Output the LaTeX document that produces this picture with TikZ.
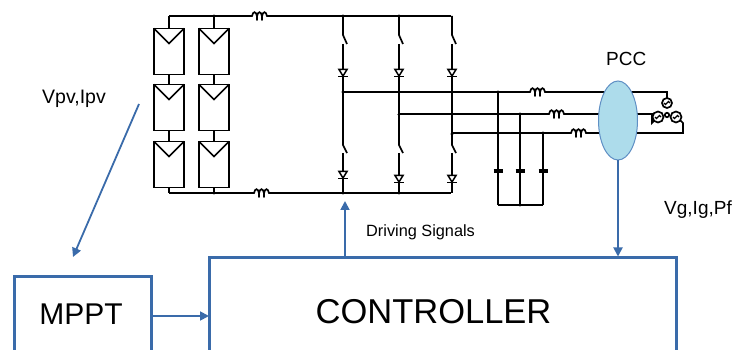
\documentclass[tikz,border=0pt]{standalone}
\usepackage{fontspec}
\setmainfont{Liberation Sans}
\usetikzlibrary{shapes.geometric,arrows.meta}
\definecolor{bl}{HTML}{3A6BAA}
\definecolor{pcc}{HTML}{ADDCEB}
\definecolor{pcce}{HTML}{5F8FC4}
\tikzset{
  wire/.style={draw=black,line width=1.7pt},
  thin wire/.style={draw=black,line width=1.7pt},
  sig/.style={draw=bl,line width=1.8pt,-{Triangle[length=9pt,width=9pt]}},
  blockbox/.style={draw=bl,line width=3pt,fill=white,anchor=north west,inner sep=0pt,outer sep=0pt},
  lbl/.style={inner sep=0pt,anchor=west,text=black},
  panel/.style={draw=black,line width=1.7pt,fill=white,minimum width=30pt,minimum height=46pt,inner sep=0pt,outer sep=0pt,anchor=north west},
  dot/.style={circle,fill=black,inner sep=0pt,minimum size=3.4pt},
  pics/coil/.style={code={
    \draw[thin wire,line cap=round] (0,0) -- (2,0) .. controls (3,-5) and (6,-5) .. (7,0) -- (7,4) (7,0) .. controls (8,-5) and (11,-5) .. (12,0) -- (12,4) (12,0) .. controls (13,-5) and (16,-5) .. (17,0) -- (19,0);
  }},
  pics/diode/.style={code={
    \draw[wire,line width=1.5pt,fill=white] (-4,-3.5) -- (4,-3.5) -- (0,3) -- cycle;
    \draw[wire,line width=1.5pt] (-5,3.4) -- (5,3.4);
  }},
}
\begin{document}
\begin{tikzpicture}[x=1pt,y=-1pt]
\useasboundingbox (0,0) rectangle (732,350);
\clip (0,0) rectangle (732,350);
% junctions and free ends
\coordinate (tl) at (169,16); \coordinate (tm) at (214,16);
\coordinate (bl1) at (169,193); \coordinate (bm) at (214,193);
\coordinate (tr) at (451,16); \coordinate (br) at (451,193);
% panels
\foreach \c/\x in {a/154,b/199}{
  \foreach \r/\y in {1/28.5,2/84.5,3/141.5}{
    \node[panel] (p\c\r) at (\x,\y) {};
    \draw[wire] (p\c\r.north west) -- ++(15,15) -- (p\c\r.north east);
  }
  \draw[wire] (p\c1.south) -- (p\c2.north);
  \draw[wire] (p\c2.south) -- (p\c3.north);
}
\draw[wire] (pa1.north) -- (tl);
\draw[wire] (pb1.north) -- (tm);
\draw[wire] (pa3.south) -- (bl1);
\draw[wire] (pb3.south) -- (bm);
% buses
\draw[wire] (tl) -- (250,16) (269,16) -- (tr);
\draw[wire] (bl1) -- (252,193) (271,193) -- (br);
\pic at (250,16) {coil};
\pic at (252,193) {coil};
% bridge legs
\foreach \x/\m/\d in {343/92/175,399/115/179,452/134/179}{
  \draw[wire] (\x,16) -- (\x,35) -- (\x+4,44);
  \draw[wire] (\x,44) -- (\x,\m);
  \draw[wire] (\x,\m) -- (\x,145) -- (\x+4,153);
  \draw[wire] (\x,153) -- (\x,193);
  \pic at (\x,73) {diode};
  \pic at (\x,\d) {diode};
}
\foreach \x in {343,399}{
  \node[dot] at (\x,16) {}; \node[dot] at (\x,193) {};
}
\node[dot] at (tm) {}; \node[dot] at (bm) {};
% phase lines
\draw[wire] (343,92) -- (528,92) (547,92) -- (667,92) -- (667,98);
\draw[wire] (399,114) -- (547,114) (566,114) -- (652,114) -- (652,123) -- (654,121);
\draw[wire] (452,133) -- (569,133) (588,133) -- (683,133) -- (683,123) -- (680,120);
\pic at (528,92) {coil};
\pic at (547,114) {coil};
\pic at (569,133) {coil};
\node[dot] at (343,92) {}; \node[dot] at (399,114.5) {}; \node[dot] at (452,134) {};
% capacitors
\foreach \x/\y in {498/92,520/114,543/133}{
  \node[dot] at (\x,\y) {};
  \draw[wire] (\x,\y) -- (\x,170);
  \draw[wire] (\x,172) -- (\x,205);
  \draw[line width=3.2pt] (\x-4.5,171) -- (\x+4.5,171);
}
\draw[wire] (498,205) -- (543,205);
\node[dot] at (520,205) {};
% grid transformer
\foreach \cx/\cy/\r in {667/103/5,658/117/5.5,676/117/5.5}{
  \draw[wire] (\cx,\cy) circle (\r);
  \draw[line width=1.3pt] (\cx-3,\cy) arc (180:0:1.5) arc (180:360:1.5);
}
\draw[wire] (667,115) circle (2.2);
% PCC
\node[ellipse,draw=pcce,line width=1pt,fill=pcc,minimum width=39pt,minimum height=79pt,inner sep=0pt,outer sep=0pt] (pccn) at (618,120.5) {};
% blocks
\node[blockbox,minimum width=467.5pt,minimum height=110pt] (ctl) at (209,257.5) {};
\node[blockbox,minimum width=136.5pt,minimum height=90pt] (mppt) at (14.5,277) {};
\node[font=\fontsize{34.5}{34.5}\selectfont,inner sep=0pt] at (433.5,312) {CONTROLLER};
\node[font=\fontsize{30}{30}\selectfont,inner sep=0pt] at (81,314) {MPPT};
% signals
\coordinate (ds) at (345,201);
\coordinate (vs) at (139,104); \coordinate (ve) at (73,257);
\draw[sig] (345,256) -- (ds);
\draw[sig] (pccn.south) -- (618,256.5);
\draw[sig] (151,316) -- (209,316);
\draw[sig] (vs) -- (ve);
% labels
\node[lbl,font=\fontsize{19.5}{19.5}\selectfont] at (42,99) {Vpv,Ipv};
\node[lbl,font=\fontsize{19}{19}\selectfont] at (606,59) {PCC};
\node[lbl,font=\fontsize{19}{19}\selectfont] at (664,210) {Vg,Ig,Pf};
\node[lbl,font=\fontsize{16.3}{16.3}\selectfont] at (366,232) {Driving Signals};
\end{tikzpicture}
\end{document}
